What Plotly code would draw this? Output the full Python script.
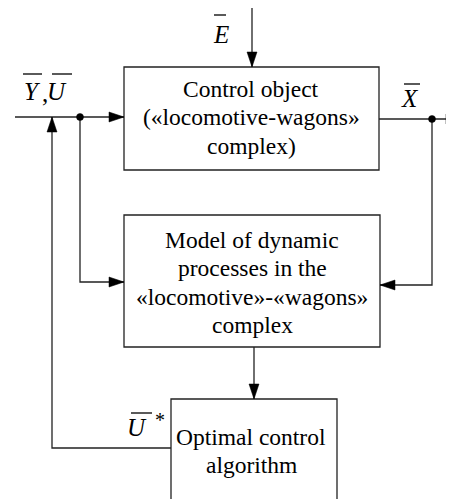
import plotly.graph_objects as go

W, H = 454, 499
OFF = 8  # default page margin of the browser body

# Blocks: (x0, y0, x1, y1) in diagram units (window pixels), and their text
box_rects = [(124, 67, 379, 170), (124, 215, 380, 347), (171, 399, 337, 520)]
box_texts = [
    ["Control object", "(«locomotive-wagons»", "complex)"],
    ["Model of dynamic", "processes in the", "«locomotive»-«wagons»", "complex"],
    ["Optimal control", "algorithm"],
]
box_text_x = [251, 252, 251]
box_text_first_y = [89, 240, 437]
LINE_STEP = 28.3

# Connectors: polylines ending in an arrowhead
connectors = [
    [(252, 8), (252, 67)],
    [(15, 117), (124, 117)],
    [(379, 119), (461, 119)],
    [(80, 117), (80, 282), (124, 282)],
    [(432, 119), (432, 285), (380, 285)],
    [(254, 347), (254, 399)],
    [(171, 448), (52, 448), (52, 117)],
]
junctions = [(80, 117), (432, 119)]

# Signal labels: (text, x, y, overline segments)
labels = [
    ("E", 221, 34, [(214, 226, 15)]),
    ("Y", 32, 91, [(23, 42, 74)]),
    (",", 45, 93, []),
    ("U", 57, 91, [(52, 72, 74)]),
    ("X", 410, 98, [(404, 420, 84)]),
    ("U", 137, 427, [(131, 152, 413)]),
]
star = ("*", 160, 420)

FONT = "Liberation Serif"
LINE = "#222222"
fig = go.Figure()
shapes = []
for (x0, y0, x1, y1) in box_rects:
    shapes.append(dict(type="rect", x0=x0, y0=y0, x1=x1, y1=y1,
                       line=dict(color=LINE, width=1.3), fillcolor="rgba(0,0,0,0)"))

AL, AW = 15, 5
for pts in connectors:
    path = "M " + " L ".join(f"{x},{y}" for x, y in pts)
    (xa, ya), (xb, yb) = pts[-2], pts[-1]
    dx = (xb > xa) - (xb < xa)
    dy = (yb > ya) - (yb < ya)
    shapes.append(dict(type="path", path=path, line=dict(color=LINE, width=1.3)))
    bx, by = xb - dx * AL, yb - dy * AL
    px, py = -dy * AW, dx * AW
    tri = f"M {xb},{yb} L {bx+px},{by+py} L {bx-px},{by-py} Z"
    shapes.append(dict(type="path", path=tri, fillcolor="black",
                       line=dict(color="black", width=0.5)))

for (cx, cy) in junctions:
    r = 3.5
    shapes.append(dict(type="circle", x0=cx-r, y0=cy-r, x1=cx+r, y1=cy+r,
                       fillcolor="black", line=dict(color="black", width=0.5)))

annotations = []
for cx, y0, lines in zip(box_text_x, box_text_first_y, box_texts):
    for i, ln in enumerate(lines):
        annotations.append(dict(x=cx, y=y0 + i * LINE_STEP, xref="x", yref="y", text=ln,
                                showarrow=False, align="center",
                                font=dict(family=FONT, size=23.5, color="black")))

for txt, x, y, bars in labels:
    annotations.append(dict(x=x, y=y, xref="x", yref="y", text=f"<i>{txt}</i>" if txt != "," else txt,
                            showarrow=False,
                            font=dict(family=FONT, size=25, color="black")))
    for (bx0, bx1, by) in bars:
        shapes.append(dict(type="line", x0=bx0, x1=bx1, y0=by, y1=by,
                           line=dict(color="black", width=1.3)))
annotations.append(dict(x=star[1], y=star[2], xref="x", yref="y", text=star[0],
                        showarrow=False,
                        font=dict(family=FONT, size=20, color="black")))

fig.update_layout(
    width=W, height=H, margin=dict(l=0, r=0, t=0, b=0),
    paper_bgcolor="white", plot_bgcolor="white",
    xaxis=dict(range=[OFF, W + OFF], visible=False, fixedrange=True),
    yaxis=dict(range=[H + OFF, OFF], visible=False, fixedrange=True),
    shapes=shapes, annotations=annotations, showlegend=False,
)
fig.write_html("out.html")
